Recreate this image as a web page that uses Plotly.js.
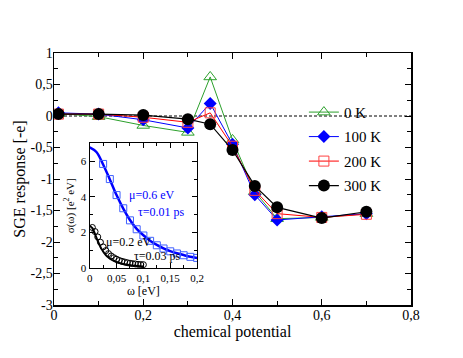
<!DOCTYPE html>
<html><head><meta charset="utf-8">
<script src="https://cdn.plot.ly/plotly-3.0.1.min.js"></script>
<style>html,body{margin:0;padding:0;background:#fff}#c{width:463px;height:358px}</style>
</head><body><div id="c"></div>
<script>
// Main chart data
var mu = [0.01, 0.1, 0.2, 0.3, 0.35, 0.4, 0.45, 0.5, 0.6, 0.7];
var sge0K   = [0.04, -0.01, -0.15, -0.26, 0.62, -0.38, -1.20, -1.63, -1.61, -1.55];
var sge100K = [0.05, 0.03, -0.06, -0.19, 0.20, -0.45, -1.25, -1.65, -1.60, -1.55];
var sge200K = [0.03, 0.03, -0.02, -0.10, 0.05, -0.48, -1.18, -1.55, -1.61, -1.56];
var sge300K = [0.03, 0.03, 0.015, -0.05, -0.13, -0.54, -1.11, -1.45, -1.62, -1.52];
var seriesNames = ['0 K', '100 K', '200 K', '300 K'];
var yTickVals = [1, 0.5, 0, -0.5, -1, -1.5, -2, -2.5, -3];
var yTickText = ['1', '0,5', '0', '-0,5', '-1', '-1,5', '-2', '-2,5', '-3'];
var xTickVals = [0, 0.2, 0.4, 0.6, 0.8];
var xTickText = ['0', '0,2', '0,4', '0,6', '0,8'];

// Inset data
var wCurveBlue = [0, 0.0125, 0.025, 0.0375, 0.05, 0.0625, 0.075, 0.0875, 0.1, 0.1125, 0.125, 0.1375, 0.15, 0.1625, 0.175, 0.1875, 0.2];
var sCurveBlue = [6.78, 6.52, 5.82, 4.98, 4.1, 3.34, 2.7, 2.2, 1.84, 1.54, 1.3, 1.11, 0.95, 0.83, 0.73, 0.64, 0.57];
var wSqBlue = [0.025, 0.0375, 0.05, 0.0625, 0.075, 0.0875, 0.1, 0.1125, 0.125, 0.1375, 0.15, 0.1625, 0.175, 0.1875, 0.2];
var sSqBlue = [5.85, 5.0, 4.1, 3.36, 2.68, 2.18, 1.83, 1.53, 1.28, 1.10, 0.94, 0.82, 0.72, 0.63, 0.57];
var wCurveBlack = [0, 0.005, 0.01, 0.015, 0.02, 0.025, 0.03, 0.035, 0.04, 0.05, 0.06, 0.07, 0.08, 0.09, 0.1];
var sCurveBlack = [2.38, 2.24, 1.90, 1.52, 1.19, 0.93, 0.73, 0.59, 0.48, 0.33, 0.24, 0.18, 0.14, 0.11, 0.09];
var wCircBlack = [0.005, 0.01, 0.015, 0.02, 0.025, 0.03, 0.035, 0.04, 0.045, 0.05, 0.055, 0.06, 0.065, 0.07, 0.075, 0.08, 0.085, 0.09, 0.095, 0.1];
var sCircBlack = [2.28, 2.05, 1.75, 1.45, 1.19, 0.98, 0.81, 0.68, 0.58, 0.50, 0.43, 0.38, 0.34, 0.30, 0.27, 0.25, 0.23, 0.21, 0.20, 0.19];

var serif = 'Liberation Serif';
var traces = [
  {x: mu, y: sge0K, name: seriesNames[0], mode: 'lines+markers', legendgroup: 'a',
   line: {color: '#2ca02c', width: 1}, marker: {symbol: 'triangle-up-open', size: 11, color: '#2ca02c', line: {width: 1}}},
  {x: mu, y: sge100K, name: seriesNames[1], mode: 'lines+markers', legendgroup: 'b',
   line: {color: '#0000ff', width: 1}, marker: {symbol: 'diamond', size: 10, color: '#0000ff'}},
  {x: mu, y: sge200K, name: seriesNames[2], mode: 'lines+markers', legendgroup: 'c',
   line: {color: '#ff0000', width: 1}, marker: {symbol: 'square-open', size: 10, color: '#ff4040', line: {width: 1}}},
  {x: mu, y: sge300K, name: seriesNames[3], mode: 'lines+markers', legendgroup: 'd',
   line: {color: '#000000', width: 1.2}, marker: {symbol: 'circle', size: 12, color: '#000000'}},
  {x: wCurveBlue, y: sCurveBlue, xaxis: 'x2', yaxis: 'y2', mode: 'lines', showlegend: false,
   line: {color: '#0000ff', width: 2.5, shape: 'spline'}},
  {x: wSqBlue, y: sSqBlue, xaxis: 'x2', yaxis: 'y2', mode: 'markers', showlegend: false,
   marker: {symbol: 'square-open', size: 7, color: '#4060ff', line: {width: 1}}},
  {x: wCurveBlack, y: sCurveBlack, xaxis: 'x2', yaxis: 'y2', mode: 'lines', showlegend: false,
   line: {color: '#000000', width: 2, shape: 'spline'}},
  {x: wCircBlack, y: sCircBlack, xaxis: 'x2', yaxis: 'y2', mode: 'markers', showlegend: false,
   marker: {symbol: 'circle-open', size: 6, color: '#000000', line: {width: 1}}}
];

var axCommon = {showline: true, linecolor: '#000', linewidth: 1.5, mirror: 'ticks', ticks: 'inside',
  tickcolor: '#000', showgrid: false, zeroline: false};

var layout = {
  width: 463, height: 358,
  margin: {l: 53.5, r: 51.5, t: 52.7, b: 53},
  paper_bgcolor: '#fff', plot_bgcolor: '#fff',
  font: {family: serif, color: '#000', size: 14},
  separators: ', ',
  showlegend: true,
  legend: {x: 0.70, y: 0.83, xanchor: 'left', yanchor: 'top', bgcolor: 'rgba(0,0,0,0)',
    font: {family: serif, size: 15, color: '#000'}, tracegroupgap: 2, traceorder: 'grouped', itemwidth: 30},
  xaxis: Object.assign({}, axCommon, {range: [0, 0.8], tickmode: 'array', tickvals: xTickVals, ticktext: xTickText,
    ticklen: 6, tickwidth: 1, tickfont: {family: serif, size: 14}, ticklabelstandoff: -3,
    minor: {tickmode: 'linear', tick0: 0, dtick: 0.1, ticks: 'inside', ticklen: 4, tickcolor: '#000'},
    title: {text: 'chemical potential', font: {family: serif, size: 16}, standoff: 2}}),
  yaxis: Object.assign({}, axCommon, {range: [-3, 1], tickmode: 'array', tickvals: yTickVals, ticktext: yTickText,
    ticklen: 6, tickwidth: 1, tickfont: {family: serif, size: 14}, ticklabelstandoff: -3,
    minor: {tickmode: 'linear', tick0: 0, dtick: 0.25, ticks: 'inside', ticklen: 4, tickcolor: '#000'},
    title: {text: 'SGE response [-e]', font: {family: serif, size: 16}, standoff: 1}}),
  xaxis2: Object.assign({}, axCommon, {domain: [0.1, 0.4008], anchor: 'y2', range: [0, 0.2], linewidth: 1.2,
    tickmode: 'array', tickvals: [0, 0.05, 0.1, 0.15, 0.2], ticktext: ['0', '0,05', '0,1', '0,15', '0,2'],
    ticklen: 5, tickfont: {family: serif, size: 11},
    minor: {tickmode: 'linear', tick0: 0, dtick: 0.025, ticks: 'inside', ticklen: 3, tickcolor: '#000'},
    title: {text: 'ω [eV]', font: {family: serif, size: 12}, standoff: 2}}),
  yaxis2: Object.assign({}, axCommon, {domain: [0.1466, 0.641], anchor: 'x2', range: [0, 7], linewidth: 1.2,
    tickmode: 'array', tickvals: [0, 2, 4, 6], ticktext: ['0', '2', '4', '6'],
    ticklen: 5, tickfont: {family: serif, size: 11},
    minor: {tickmode: 'linear', tick0: 0, dtick: 1, ticks: 'inside', ticklen: 3, tickcolor: '#000'},
    title: {text: 'σ(ω) [e<sup>2</sup> eV]', font: {family: serif, size: 11}, standoff: 4}}),
  shapes: [{type: 'line', xref: 'paper', x0: 0, x1: 1, yref: 'y', y0: 0, y1: 0,
    line: {color: '#000', width: 1, dash: '3px,2px'}, layer: 'below'}],
  annotations: [
    {xref: 'x2', yref: 'y2', x: 0.069, y: 4.1, text: 'μ=0.6 eV', showarrow: false, xanchor: 'left',
     font: {family: serif, size: 12, color: '#0000ff'}},
    {xref: 'x2', yref: 'y2', x: 0.087, y: 3.14, text: 'τ=0.01 ps', showarrow: false, xanchor: 'left',
     font: {family: serif, size: 12, color: '#0000ff'}},
    {xref: 'x2', yref: 'y2', x: 0.027, y: 1.46, text: 'μ=0.2 eV', showarrow: false, xanchor: 'left',
     font: {family: serif, size: 12, color: '#000'}},
    {xref: 'x2', yref: 'y2', x: 0.078, y: 0.65, text: 'τ=0.03 ps', showarrow: false, xanchor: 'left',
     font: {family: serif, size: 12, color: '#000'}}
  ]
};

Plotly.newPlot('c', traces, layout, {displayModeBar: false, staticPlot: true});
</script></body></html>
